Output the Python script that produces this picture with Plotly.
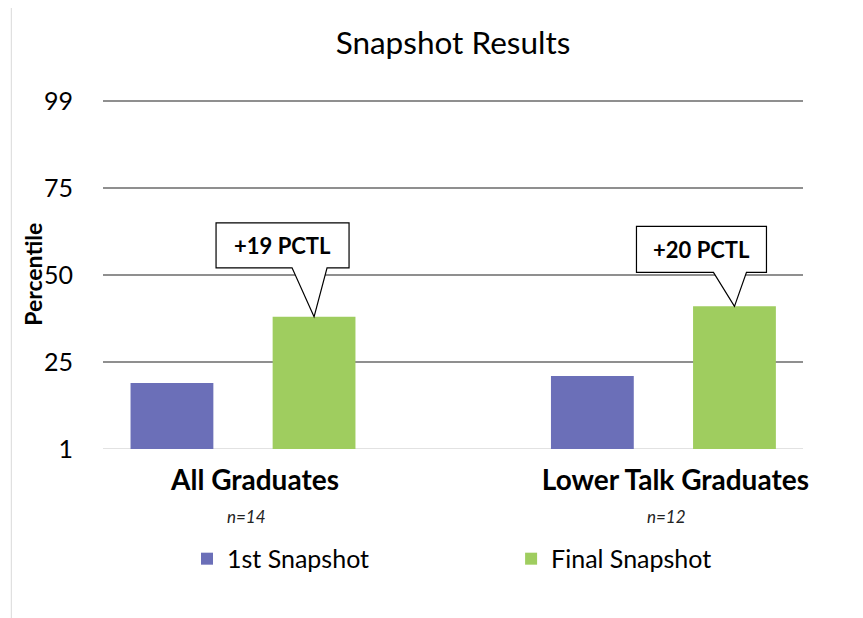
import plotly.graph_objects as go

categories = ["All Graduates", "Lower Talk Graduates"]
n_labels = ["n=14", "n=12"]
first_snapshot = [19, 21]
final_snapshot = [38, 41]
series_names = ["1st Snapshot", "Final Snapshot"]
y_tickvals = [0, 25, 50, 75, 100]
y_ticktext = ["1", "25", "50", "75", "99"]
y_title = "Percentile"

BLUE = "#6b6fb8"
GREEN = "#9fcd5f"
FONT = "Lato"
BAR_W = 0.197
OFF_BLUE = -0.2675
OFF_GREEN = 0.0705

x_idx = list(range(len(categories)))

fig = go.Figure()
fig.add_trace(go.Bar(x=x_idx, y=first_snapshot, name=series_names[0],
                     marker=dict(color=BLUE, line=dict(width=0)),
                     width=BAR_W, offset=OFF_BLUE, legend="legend"))
fig.add_trace(go.Bar(x=x_idx, y=final_snapshot, name=series_names[1],
                     marker=dict(color=GREEN, line=dict(width=0)),
                     width=BAR_W, offset=OFF_GREEN, legend="legend2"))

# callout geometry (pixels relative to the tip at the top of the green bar)
callouts = [
    dict(left=-98, right=35, top=94, bottom=49, bl=-22, br=13),
    dict(left=-98, right=32, top=80, bottom=34, bl=-21, br=12),
]

shapes = []
annotations = []
for i, (a, b) in enumerate(zip(first_snapshot, final_snapshot)):
    c = callouts[i]
    xa = i + OFF_GREEN + BAR_W / 2
    path = (f"M 0 0 L {c['br']} {c['bottom']} L {c['right']} {c['bottom']} "
            f"L {c['right']} {c['top']} L {c['left']} {c['top']} "
            f"L {c['left']} {c['bottom']} L {c['bl']} {c['bottom']} Z")
    shapes.append(dict(type="path", xref="x", yref="y", xsizemode="pixel",
                       ysizemode="pixel", xanchor=xa, yanchor=b, path=path,
                       fillcolor="white", line=dict(color="black", width=1.2),
                       layer="above"))
    annotations.append(dict(x=xa, y=b, xref="x", yref="y", showarrow=False,
                            text=f"<b>+{b - a} PCTL</b>",
                            xshift=(c["left"] + c["right"]) / 2,
                            yshift=(c["top"] + c["bottom"]) / 2,
                            font=dict(family=FONT, size=22, color="black")))
    annotations.append(dict(x=i, y=-0.192, xref="x", yref="paper", showarrow=False,
                            text=f"<i>{n_labels[i]}</i>", yanchor="middle",
                            xshift=3,
                            font=dict(family=FONT, size=17, color="#222")))

# y-axis title
annotations.append(dict(x=-0.101, y=0.5, xref="paper", yref="paper",
                        showarrow=False, textangle=-90, text=f"<b>{y_title}</b>",
                        xanchor="center", yanchor="middle",
                        font=dict(family=FONT, size=23, color="black")))

# outer chart border (left and top visible)
shapes.append(dict(type="rect", xref="paper", yref="paper", x0=-0.131, x1=2,
                   y0=-2, y1=1.269, line=dict(color="#d9d9d9", width=1),
                   fillcolor="rgba(0,0,0,0)", layer="below"))

legend_common = dict(orientation="h", yanchor="middle", y=-0.315,
                     xanchor="left",
                     font=dict(family=FONT, size=25, color="black"),
                     bgcolor="rgba(0,0,0,0)")

fig.update_layout(
    width=863, height=618,
    margin=dict(l=95, r=68, t=92, b=177),
    paper_bgcolor="white", plot_bgcolor="white",
    font=dict(family=FONT, color="black"),
    title=dict(text="Snapshot Results", x=0.5, xanchor="center",
               y=1 - 35 / 618, yanchor="middle", xref="paper",
               font=dict(family=FONT, size=31.5, color="black")),
    barmode="group",
    showlegend=True,
    legend=dict(x=0.12, **legend_common),
    legend2=dict(x=0.583, **legend_common),
    xaxis=dict(tickvals=x_idx, ticktext=[f"<b>{c}</b>" for c in categories],
               range=[-0.333, 1.332], showgrid=False, zeroline=False,
               showline=False, ticks="", ticklabelstandoff=12,
               ticklabelshift=12, automargin=False,
               tickfont=dict(family=FONT, size=28, color="black")),
    yaxis=dict(range=[0, 100.3], tickvals=y_tickvals, ticktext=y_ticktext,
               showgrid=True, gridcolor="#8f8f8f", gridwidth=1.5,
               zeroline=False, showline=False, ticks="",
               ticklabelstandoff=29, automargin=False,
               tickfont=dict(family=FONT, size=25, color="black")),
    shapes=shapes,
    annotations=annotations,
)
# light baseline at the bottom tick
fig.add_hline(y=y_tickvals[0], line=dict(color="#d9d9d9", width=1.5), layer="below")

fig.write_html("out.html")
